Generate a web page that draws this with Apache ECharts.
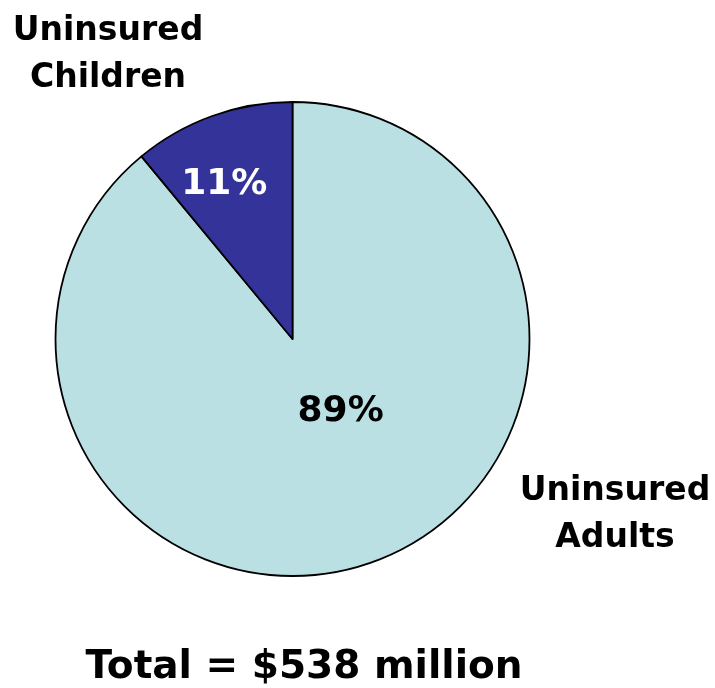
<!DOCTYPE html>
<html>
<head>
<meta charset="utf-8">
<script src="https://cdn.jsdelivr.net/npm/echarts@6/dist/echarts.min.js"></script>
<style>
  html, body { margin: 0; padding: 0; background: #fff; }
  #chart { width: 715px; height: 688px; }
</style>
</head>
<body>
<div id="chart"></div>
<script>
// Share of uncompensated care spending by group (percent)
const categories = ['Uninsured Adults', 'Uninsured Children'];
const nameLines = [['Uninsured', 'Adults'], ['Uninsured', 'Children']];
const shares = [89, 11];
const totalLabel = 'Total = $538 million';

const sliceColors = ['#BBE0E3', '#333399'];
const pctColors = ['#000000', '#ffffff'];
const pctOffsets = [[7, -42], [-27, -40]];

const FONT = '"DejaVu Sans", Verdana, sans-serif';

const chart = echarts.init(document.getElementById('chart'), null, { renderer: 'canvas' });

chart.setOption({
  animation: false,
  backgroundColor: '#ffffff',
  series: [{
    type: 'pie',
    center: [292.5, 339],
    radius: [0, 237],
    startAngle: 90,
    clockwise: true,
    avoidLabelOverlap: false,
    silent: true,
    itemStyle: { borderColor: '#000000', borderWidth: 1.8 },
    label: {
      show: true,
      position: 'inside',
      formatter: p => p.value + '%',
      fontFamily: FONT,
      fontWeight: 'bold',
      fontSize: 36
    },
    labelLine: { show: false },
    emphasis: { disabled: true },
    data: categories.map((c, i) => ({
      name: c,
      value: shares[i],
      itemStyle: { color: sliceColors[i] },
      label: { color: pctColors[i], offset: pctOffsets[i] }
    }))
  }],
  graphic: [
    {
      type: 'text',
      x: 108, y: 8,
      style: {
        text: nameLines[1].join('\n'),
        align: 'center',
        font: 'bold 33px ' + FONT,
        lineHeight: 47,
        fill: '#000'
      }
    },
    {
      type: 'text',
      x: 615, y: 468,
      style: {
        text: nameLines[0].join('\n'),
        align: 'center',
        font: 'bold 33px ' + FONT,
        lineHeight: 47,
        fill: '#000'
      }
    },
    {
      type: 'text',
      x: 304, y: 648,
      style: {
        text: totalLabel,
        align: 'center',
        font: 'bold 39px ' + FONT,
        fill: '#000'
      }
    }
  ]
});
</script>
</body>
</html>
